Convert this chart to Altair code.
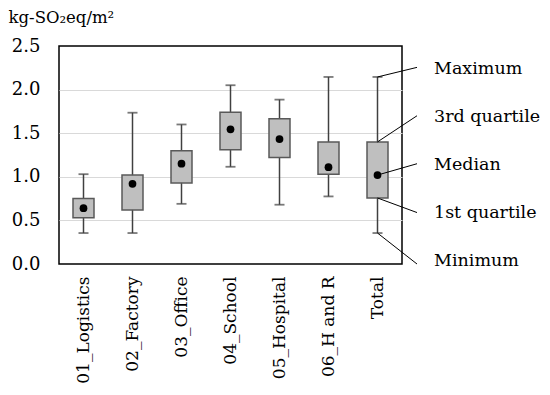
import altair as alt
import pandas as pd

categories = ["01_Logistics", "02_Factory", "03_Office", "04_School", "05_Hospital", "06_H and R", "Total"]
minimum = [0.355, 0.355, 0.69, 1.115, 0.68, 0.775, 0.355]
q1 = [0.53, 0.62, 0.93, 1.31, 1.22, 1.03, 0.757]
median = [0.64, 0.92, 1.15, 1.545, 1.433, 1.11, 1.02]
q3 = [0.75, 1.02, 1.30, 1.74, 1.665, 1.40, 1.40]
maximum = [1.03, 1.735, 1.60, 2.05, 1.885, 2.145, 2.145]

ann_labels = ["Maximum", "3rd quartile", "Median", "1st quartile", "Minimum"]
ann_start = [2.145, 1.40, 1.02, 0.757, 0.355]
ann_end = [2.255, 1.70, 1.15, 0.59, 0.0]
ann_text_y = [2.24, 1.69, 1.14, 0.59, 0.04]

FONT = "DejaVu Serif"
W, H = 343, 218

df = pd.DataFrame({"cat": categories, "min": minimum, "q1": q1, "med": median,
                   "q3": q3, "max": maximum})
ann = pd.DataFrame({"label": ann_labels, "start": ann_start, "end": ann_end,
                    "ty": ann_text_y, "cat": ["Total"] * 5})

xenc = alt.X("cat:N", sort=categories,
             scale=alt.Scale(paddingInner=0, paddingOuter=0),
             axis=alt.Axis(title=None, labelAngle=-90, ticks=False, domain=False,
                           labelPadding=12, labelFont=FONT, labelFontSize=17,
                           labelColor="black", grid=False))
yscale = alt.Scale(domain=[0, 2.5], nice=False)
yaxis = alt.Axis(values=[0, 0.5, 1.0, 1.5, 2.0, 2.5], format=".1f", ticks=False,
                 domain=False, labelPadding=19, labelFont=FONT, labelFontSize=18,
                 labelColor="black", grid=True,
                 gridColor={"condition": {"test": "datum.value >= 2.5 || datum.value <= 0",
                                          "value": "transparent"},
                            "value": "#d9d9d9"},
                 gridWidth=1.2,
                 title="kg-SO₂eq/m²", titleAngle=0, titleAlign="left",
                 titleBaseline="alphabetic", titleX=-51, titleY=-24,
                 titleFont=FONT, titleFontSize=16.5, titleFontWeight="normal",
                 titleColor="black")

base = alt.Chart(df)

whisk = base.mark_rule(color="#404040", strokeWidth=1.5).encode(
    x=xenc,
    y=alt.Y("min:Q", scale=yscale, axis=yaxis),
    y2="max:Q")
cap_lo = base.mark_tick(orient="horizontal", color="#404040", thickness=1.8, size=10).encode(
    x=alt.X("cat:N", sort=categories), y="min:Q")
cap_hi = base.mark_tick(orient="horizontal", color="#404040", thickness=1.8, size=10).encode(
    x=alt.X("cat:N", sort=categories), y="max:Q")
box = base.mark_bar(size=21, color="#bfbfbf", stroke="#595959", strokeWidth=1.5).encode(
    x=alt.X("cat:N", sort=categories), y="q1:Q", y2="q3:Q")
dot = base.mark_point(filled=True, color="black", size=60, opacity=1).encode(
    x=alt.X("cat:N", sort=categories), y="med:Q")

annb = alt.Chart(ann)
lines = annb.mark_rule(color="black", strokeWidth=1).encode(
    x=alt.X("cat:N", sort=categories),
    x2=alt.value(W + 15),
    y="start:Q", y2="end:Q")
texts = annb.mark_text(align="left", baseline="middle", font=FONT, fontSize=17.5,
                       color="black").encode(
    x=alt.value(W + 32), y="ty:Q", text="label:N")

chart = alt.layer(whisk, cap_lo, cap_hi, box, dot, lines, texts).properties(
    width=W, height=H,
    autosize=alt.AutoSizeParams(type="none"),
    padding={"left": 51, "top": 38, "right": 140, "bottom": 123},
).configure(background="white").configure_view(stroke="black", strokeWidth=1.5)

chart.save("out.html", embed_options={"renderer": "svg", "actions": False})
